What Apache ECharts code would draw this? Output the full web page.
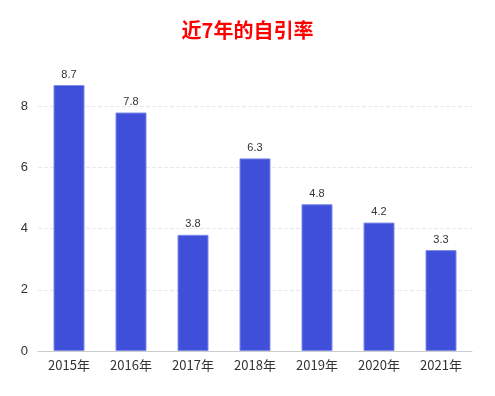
<!DOCTYPE html>
<html><head><meta charset="utf-8">
<script src="https://cdn.jsdelivr.net/npm/echarts@6/dist/echarts.min.js"></script>
<style>html,body{margin:0;padding:0;background:#fff}#c{width:495px;height:396px}</style>
</head><body><div id="c"></div>
<script>
const titleText = '近7年的自引率';
const categories = ['2015年','2016年','2017年','2018年','2019年','2020年','2021年'];
const values = [8.7, 7.8, 3.8, 6.3, 4.8, 4.2, 3.3];

const chart = echarts.init(document.getElementById('c'));
chart.setOption({
  animation: false,
  title: {
    text: titleText, left: 'center', top: 15,
    textStyle: { color: '#ff0000', fontSize: 20, fontWeight: 'bold', fontFamily: 'Noto Sans CJK SC' }
  },
  grid: { left: 38, right: 23, top: 85, bottom: 45 },
  xAxis: {
    type: 'category', data: categories,
    axisLine: { lineStyle: { color: '#cccccc' } },
    axisTick: { alignWithLabel: true, lineStyle: { color: '#cccccc' } },
    axisLabel: { color: '#333', fontSize: 13, margin: 8, fontFamily: 'Noto Sans CJK SC' }
  },
  yAxis: {
    type: 'value', min: 0, max: 'dataMax', interval: 2,
    axisLine: { show: false }, axisTick: { show: false },
    axisLabel: { color: '#333', fontSize: 13, margin: 10, showMaxLabel: false },
    splitLine: { showMaxLine: false, lineStyle: { type: 'dashed', color: '#e8e8e8' } }
  },
  series: [{
    type: 'bar', data: values, barWidth: '50%',
    itemStyle: { color: '#3f4fd9', borderColor: '#7e8be8', borderWidth: 1 },
    label: { show: true, position: 'top', color: '#333', fontSize: 11, distance: 5 }
  }]
});
</script></body></html>
